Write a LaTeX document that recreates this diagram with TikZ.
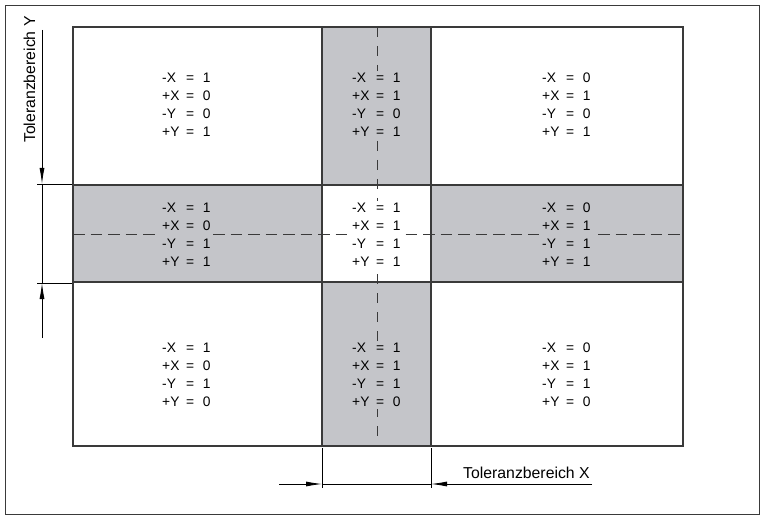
\documentclass[tikz,border=0pt]{standalone}
\usepackage{fontspec}
\setmainfont{Liberation Sans}
\usetikzlibrary{arrows.meta}
\definecolor{zone}{RGB}{196,197,201}
\definecolor{ink}{RGB}{58,58,58}
% one line of a switching table: label, aligned "=", value
\newcommand\tolline[2]{\makebox[24pt][l]{#1}=\hspace{8.5pt}#2}
\begin{document}
\begin{tikzpicture}[x=1pt,y=-1pt,
  gridline/.style={draw=ink,line width=1.4pt},
  axisline/.style={draw=ink,line width=1pt},
  dimline/.style={draw=black,line width=0.8pt},
  dimarrow/.style={dimline,-{Latex[length=16pt,width=5pt]}},
  cell/.style={align=left,anchor=north west,inner xsep=3pt,inner ysep=2pt,
    fill=white,font=\fontsize{13.8}{17.9}\selectfont},
  band/.style={cell,fill=zone},
  dimlabel/.style={inner sep=0pt,font=\fontsize{15.8}{18}\selectfont}]
\useasboundingbox (0,0) rectangle (761,516);
\draw[ink,line width=0.8pt] (5,5) rectangle (759.5,514.5);

% tolerance bands
\fill[zone] (322,27) rectangle (431,185);
\fill[zone] (322,282) rectangle (431,446);
\fill[zone] (73,185) rectangle (322,282);
\fill[zone] (431,185) rectangle (683,282);

% centre axes
\draw[axisline,dash pattern=on 11.5pt off 6pt] (73,234) -- (683,234);
\draw[axisline,dash pattern=on 10pt off 9pt] (377,27) -- (377,446);

% grid
\draw[gridline] (73,27) rectangle (683,446);
\draw[gridline] (73,185) -- (683,185);
\draw[gridline] (73,282) -- (683,282);
\draw[gridline] (322,27) -- (322,446);
\draw[gridline] (431,27) -- (431,446);

% switching states per field
\node[cell] (c11) at (159,71)  {\tolline{-X}{1}\\\tolline{+X}{0}\\\tolline{-Y}{0}\\\tolline{+Y}{1}};
\node[band] (c12) at (349,71)  {\tolline{-X}{1}\\\tolline{+X}{1}\\\tolline{-Y}{0}\\\tolline{+Y}{1}};
\node[cell] (c13) at (539,71)  {\tolline{-X}{0}\\\tolline{+X}{1}\\\tolline{-Y}{0}\\\tolline{+Y}{1}};
\node[band] (c21) at (159,201) {\tolline{-X}{1}\\\tolline{+X}{0}\\\tolline{-Y}{1}\\\tolline{+Y}{1}};
\node[cell] (c22) at (349,201) {\tolline{-X}{1}\\\tolline{+X}{1}\\\tolline{-Y}{1}\\\tolline{+Y}{1}};
\node[band] (c23) at (539,201) {\tolline{-X}{0}\\\tolline{+X}{1}\\\tolline{-Y}{1}\\\tolline{+Y}{1}};
\node[cell] (c31) at (159,341) {\tolline{-X}{1}\\\tolline{+X}{0}\\\tolline{-Y}{1}\\\tolline{+Y}{0}};
\node[band] (c32) at (349,341) {\tolline{-X}{1}\\\tolline{+X}{1}\\\tolline{-Y}{1}\\\tolline{+Y}{0}};
\node[cell] (c33) at (539,341) {\tolline{-X}{0}\\\tolline{+X}{1}\\\tolline{-Y}{1}\\\tolline{+Y}{0}};

% Y tolerance dimension
\coordinate (yTop) at (42,30);
\coordinate (yBot) at (42,338);
\coordinate (yA) at (42,184);
\coordinate (yB) at (42,283);
\draw[dimline] (37,184) -- (72,184);
\draw[dimline] (37,283) -- (72,283);
\draw[dimarrow] (yTop) -- (yA);
\draw[dimline] (yA) -- (yB);
\draw[dimarrow] (yBot) -- (yB);
\node[dimlabel,rotate=90,anchor=base west] (ylabel) at (35,143) {Toleranzbereich Y};

% X tolerance dimension
\coordinate (xLeft) at (279,484);
\coordinate (xRight) at (592,484);
\coordinate (xA) at (322,484);
\coordinate (xB) at (431,484);
\draw[dimline] (322,448) -- (322,488);
\draw[dimline] (431,448) -- (431,488);
\draw[dimarrow] (xLeft) -- (xA);
\draw[dimline] (xA) -- (xB);
\draw[dimarrow] (xRight) -- (xB);
\node[dimlabel,anchor=base west] (xlabel) at (463,478) {Toleranzbereich X};
\end{tikzpicture}
\end{document}
